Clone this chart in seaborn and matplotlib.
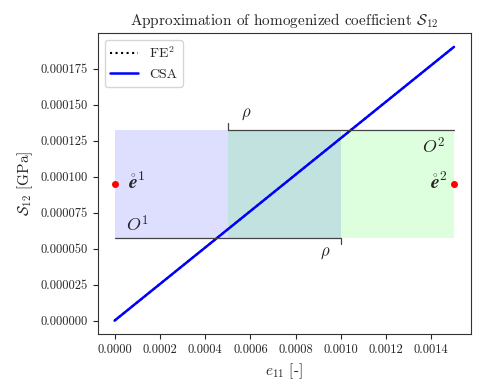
"""
Homogenized coefficient S12 vs strain e11: FE^2 vs CSA approximation
"""
import numpy as np
import pandas as pd
import seaborn as sns
import matplotlib.pyplot as plt
from matplotlib.ticker import FormatStrFormatter

sns.set_style('ticks')
plt.rcParams['font.family'] = 'serif'
plt.rcParams['font.serif'] = ['cmr10']
plt.rcParams['mathtext.fontset'] = 'cm'
plt.rcParams['axes.formatter.use_mathtext'] = True

# strain samples and coefficient values
e11 = [0.0, 0.00075, 0.0015]
s12_fe2 = [0.0, 0.000095, 0.00019]
s12_csa = [0.0, 0.000095, 0.00019]

# expansion points and their neighbourhoods
e_points = [0.0, 0.0015]
s_points = [0.000095, 0.000095]
rho = 0.001
s_low, s_high = 0.0000575, 0.0001325

df = pd.DataFrame({'e11': e11 * 2,
                   'S12': s12_fe2 + s12_csa,
                   'method': ['FE$^2$'] * 3 + ['CSA'] * 3})

fig, ax = plt.subplots(figsize=(4.88, 3.91), dpi=100)

# neighbourhoods O^1, O^2
ax.fill_between([e_points[0], e_points[0] + rho], s_low, s_high,
                color='blue', alpha=0.13, lw=0)
ax.fill_between([e_points[1] - rho, e_points[1]], s_low, s_high,
                color='lime', alpha=0.13, lw=0)

sns.lineplot(data=df[df.method == 'FE$^2$'], x='e11', y='S12', ax=ax,
             color='k', ls=':', lw=1.5, label='FE$^2$')
sns.lineplot(data=df[df.method == 'CSA'], x='e11', y='S12', ax=ax,
             color='blue', lw=1.8, label='CSA')

# rho brackets
tick = 0.0000045
ax.plot([e_points[1] - rho, e_points[1]], [s_high, s_high], color='#444444', lw=0.9)
ax.plot([e_points[1] - rho] * 2, [s_high, s_high + tick], color='#444444', lw=0.9)
ax.plot([e_points[0], e_points[0] + rho], [s_low, s_low], color='#444444', lw=0.9)
ax.plot([e_points[0] + rho] * 2, [s_low, s_low - tick], color='#444444', lw=0.9)
ax.text(0.00058, 0.000143, r'$\rho$', fontsize=12, ha='center', va='center')
ax.text(0.00093, 0.000047, r'$\rho$', fontsize=12, ha='center', va='center')

ax.plot(e_points, s_points, 'o', color='red', ms=4, zorder=5)
ax.text(0.00006, 0.000096, r'$\mathring{\boldsymbol{e}}^1$', fontsize=14,
        ha='left', va='center')
ax.text(0.00147, 0.000096, r'$\mathring{\boldsymbol{e}}^2$', fontsize=14,
        ha='right', va='center')
ax.text(0.0001, 0.000067, r'$O^1$', fontsize=13, ha='center', va='center')
ax.text(0.00141, 0.000121, r'$O^2$', fontsize=13, ha='center', va='center')

ax.xaxis.set_major_formatter(FormatStrFormatter('%.4f'))
ax.yaxis.set_major_formatter(FormatStrFormatter('%.6f'))
ax.set_xticks(np.arange(0, 0.00141, 0.0002))
ax.set_yticks(np.arange(0, 0.000176, 0.000025))
ax.set_xlabel(r'$e_{11}$ [-]', fontsize=11)
ax.set_ylabel(r'$\mathcal{S}_{12}$ [GPa]', fontsize=11)
ax.set_title(r'Approximation of homogenized coefficient $\mathcal{S}_{12}$', fontsize=11)
ax.tick_params(labelsize=9)
for s in ax.spines.values():
    s.set_color('#333333')
ax.legend(loc='upper left', fontsize=10)

plt.subplots_adjust(left=0.2, right=0.965, top=0.915, bottom=0.145)
plt.savefig('out.png', dpi=100)
